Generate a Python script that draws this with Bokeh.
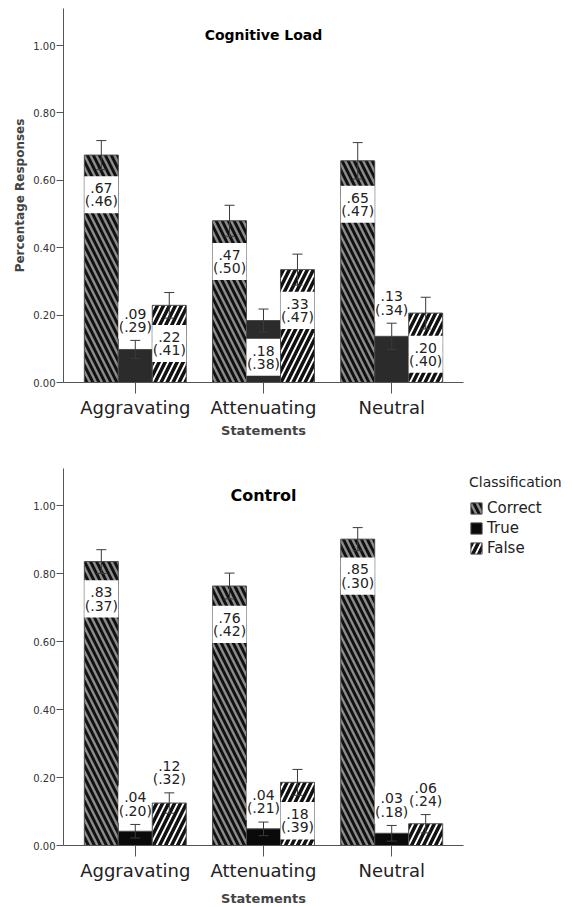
from bokeh.plotting import figure
from bokeh.models import (ColumnDataSource, FixedTicker, LabelSet, Whisker, TeeHead,
                          Label, Legend, LegendItem, NumeralTickFormatter)
from bokeh.layouts import column
from bokeh.embed import file_html
from bokeh.resources import INLINE
from bokeh.core.properties import value

categories = ["Aggravating", "Attenuating", "Neutral"]
series = ["Correct", "True", "False"]
y_ticks = [0.0, 0.2, 0.4, 0.6, 0.8, 1.0]

# Cognitive Load panel
load_correct = [0.675, 0.480, 0.658]
load_true = [0.098, 0.184, 0.137]
load_false = [0.229, 0.335, 0.206]
load_correct_err = [0.043, 0.046, 0.054]
load_true_err = [0.027, 0.034, 0.039]
load_false_err = [0.038, 0.046, 0.047]
load_correct_lbl = [".67\n(.46)", ".47\n(.50)", ".65\n(.47)"]
load_true_lbl = [".09\n(.29)", ".18\n(.38)", ".13\n(.34)"]
load_false_lbl = [".22\n(.41)", ".33\n(.47)", ".20\n(.40)"]

# Control panel
ctrl_correct = [0.836, 0.764, 0.902]
ctrl_true = [0.042, 0.049, 0.036]
ctrl_false = [0.125, 0.186, 0.064]
ctrl_correct_err = [0.035, 0.038, 0.034]
ctrl_true_err = [0.020, 0.020, 0.023]
ctrl_false_err = [0.030, 0.038, 0.027]
ctrl_correct_lbl = [".83\n(.37)", ".76\n(.42)", ".85\n(.30)"]
ctrl_true_lbl = [".04\n(.20)", ".04\n(.21)", ".03\n(.18)"]
ctrl_false_lbl = [".12\n(.32)", ".18\n(.39)", ".06\n(.24)"]

FONT = "DejaVu Sans"
BAR_W = 0.265


def make_panel(title, title_size, vals, errs, lbls, true_color, ylabel,
               frame_h, b_top, b_bottom, b_left, b_right, xlabel_standoff,
               with_legend):
    p = figure(frame_width=400, frame_height=frame_h,
               x_range=(-0.56, 2.56), y_range=(0, 1.11),
               output_backend="svg", toolbar_location=None,
               min_border_left=b_left, min_border_right=b_right,
               min_border_top=b_top, min_border_bottom=b_bottom)
    p.grid.visible = False
    p.outline_line_color = None
    p.background_fill_color = "white"

    styles = {
        "Correct": dict(fill_color="#8c8c8c", hatch_pattern="\\", hatch_color="#111111",
                        hatch_weight=3, hatch_scale=12),
        "True": dict(fill_color=true_color),
        "False": dict(fill_color="white", hatch_pattern="/", hatch_color="#111111",
                      hatch_weight=3.5, hatch_scale=12),
    }
    renderers = []
    for k, s in enumerate(series):
        v = vals[k]
        e = errs[k]
        xs = [i + (k - 1) * BAR_W for i in range(len(categories))]
        ly = [vv - ee - 0.075 if vv >= 0.15 else vv + ee + 0.06 for vv, ee in zip(v, e)]
        src = ColumnDataSource(dict(
            x=xs, top=v,
            upper=[a + b for a, b in zip(v, e)],
            lower=[a - b for a, b in zip(v, e)],
            mean=[t.split("\n")[0] for t in lbls[k]],
            sd=[t.split("\n")[1] for t in lbls[k]],
            ly=ly,
            ly1=[y + 0.0197 for y in ly],
            ly2=[y - 0.0197 for y in ly]))
        r = p.vbar(x="x", top="top", width=BAR_W, source=src,
                   line_color="#4d4d4d", line_width=1, **styles[s])
        renderers.append(r)
        # white label box
        p.rect(x="x", y="ly", width=BAR_W, height=0.11, source=src,
               fill_color="white", line_color=None)
        w = Whisker(base="x", upper="upper", lower="lower", source=src,
                    line_color="#3a3a3a", line_width=1, level="overlay",
                    upper_head=TeeHead(size=10, line_color="#3a3a3a", line_width=1),
                    lower_head=TeeHead(size=10, line_color="#3a3a3a", line_width=1))
        p.add_layout(w)
        for col, ycol in (("mean", "ly1"), ("sd", "ly2")):
            p.add_layout(LabelSet(x="x", y=ycol, text=col, source=src,
                                  text_align="center", text_baseline="middle",
                                  text_font=value(FONT), text_font_size="14px",
                                  text_color="#222222"))

    p.add_layout(Label(x=1, y=1.03, text=title, text_align="center",
                       text_baseline="middle", text_font=FONT,
                       text_font_style="bold", text_font_size=title_size,
                       text_color="black"))

    # axes
    p.xaxis.ticker = FixedTicker(ticks=[0, 1, 2])
    p.xaxis.major_label_overrides = {i: c for i, c in enumerate(categories)}
    p.xaxis.major_label_text_font = FONT
    p.xaxis.major_label_text_font_size = "18px"
    p.xaxis.major_label_text_color = "#222222"
    p.xaxis.major_tick_out = 11
    p.xaxis.major_tick_in = 0
    p.xaxis.minor_tick_line_color = None
    p.xaxis.major_label_standoff = 3
    p.xaxis.axis_label = "Statements"
    p.xaxis.axis_label_text_font = FONT
    p.xaxis.axis_label_text_font_style = "bold"
    p.xaxis.axis_label_text_font_size = "13px"
    p.xaxis.axis_label_standoff = xlabel_standoff

    p.yaxis.ticker = FixedTicker(ticks=y_ticks)
    p.yaxis.formatter = NumeralTickFormatter(format="0.00")
    p.yaxis.major_label_text_font = FONT
    p.yaxis.major_label_text_font_size = "10px"
    p.yaxis.major_label_text_color = "#333333"
    p.yaxis.major_tick_out = 7
    p.yaxis.major_tick_in = 0
    p.yaxis.minor_tick_line_color = None
    p.yaxis.major_label_standoff = 1
    if ylabel:
        p.yaxis.axis_label = ylabel
        p.yaxis.axis_label_text_font = FONT
        p.yaxis.axis_label_text_font_style = "bold"
        p.yaxis.axis_label_text_font_size = "12px"
        p.yaxis.axis_label_standoff = 3

    for ax in (p.xaxis, p.yaxis):
        ax.axis_line_color = "#555555"
        ax.major_tick_line_color = "#555555"

    if with_legend:
        legend = Legend(items=[LegendItem(label=s, renderers=[r])
                               for s, r in zip(series, renderers)],
                        title="Classification", location="top_left",
                        title_text_font=FONT, title_text_font_size="14px",
                        title_text_font_style="normal", title_text_color="#222222",
                        label_text_font=FONT, label_text_font_size="15px",
                        label_text_color="#222222",
                        glyph_width=14, glyph_height=14, label_height=20,
                        label_standoff=4, spacing=0, padding=3, margin=6,
                        border_line_color=None, background_fill_alpha=0,
                        title_standoff=8)
        p.add_layout(legend, "right")
    return p


top = make_panel("Cognitive Load", "14px",
                 [load_correct, load_true, load_false],
                 [load_correct_err, load_true_err, load_false_err],
                 [load_correct_lbl, load_true_lbl, load_false_lbl],
                 "#2b2b2b", "Percentage Responses",
                 374, 8, 78, 63, 102, 2, False)

bottom = make_panel("Control", "16px",
                    [ctrl_correct, ctrl_true, ctrl_false],
                    [ctrl_correct_err, ctrl_true_err, ctrl_false_err],
                    [ctrl_correct_lbl, ctrl_true_lbl, ctrl_false_lbl],
                    "#0a0a0a", None,
                    377, 8, 50, 61, 104, 7, True)

layout = column(top, bottom, spacing=0)
open("out.html", "w").write(file_html(layout, INLINE))
